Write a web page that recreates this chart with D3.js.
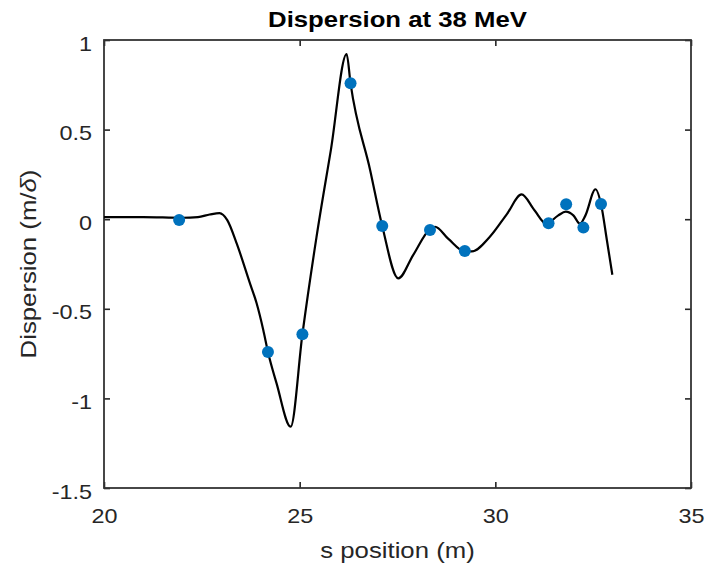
<!DOCTYPE html>
<html>
<head>
<meta charset="utf-8">
<script src="https://cdn.jsdelivr.net/npm/d3@7"></script>
<style>
  body { margin: 0; background: #fff; }
  text { font-family: "Liberation Sans", Arial, Helvetica, sans-serif; fill: #262626; }
</style>
</head>
<body>
<div id="chart"></div>
<script>
// dispersion function along the beamline (black curve)
var lineS = [20.0, 21.0, 22.0, 22.4, 22.7, 22.95, 23.15, 23.39, 23.73, 23.9, 24.07, 24.19, 24.41, 24.77,
    25.07, 25.43, 25.8, 26.2, 26.3, 26.8, 27.11, 27.52, 27.9, 28.33, 28.46, 28.8, 29.22, 29.4, 29.86,
    30.3, 30.67, 31.0, 31.3, 31.6, 31.8, 32.0, 32.16, 32.3, 32.56, 32.7, 32.85, 32.99]
var lineD = [0.012, 0.012, 0.008, 0.012, 0.026, 0.034, -0.005, -0.135, -0.358, -0.469, -0.618, -0.741, -0.916, -1.158,
    -0.642, -0.1, 0.39, 0.922, 0.758, 0.275, -0.038, -0.33, -0.2, -0.055, -0.042, -0.11, -0.18, -0.18, -0.098,
    0.03, 0.138, 0.05, -0.025, 0.02, 0.042, 0.02, -0.025, 0.02, 0.167, 0.085, -0.116, -0.31]

// measured values at the BPMs (blue markers)
var bpmS = [21.92, 24.19, 25.07, 26.30, 27.11, 28.33, 29.22, 31.36, 31.81, 32.25, 32.70]
var bpmD = [-0.005, -0.741, -0.642, 0.758, -0.038, -0.06, -0.177, -0.023, 0.083, -0.047, 0.085]

var xTicks = [20, 25, 30, 35]
var yTicks = [-1.5, -1, -0.5, 0, 0.5, 1]

var W = 706, H = 568
var margin = {top: 40, right: 15, bottom: 80, left: 104}
var stretch = 1.17   // text is drawn a bit wide

var svg = d3.select('#chart').append('svg')
    .attr('width', W)
    .attr('height', H)

var x = d3.scaleLinear().domain([20, 35]).range([margin.left, W - margin.right])
var y = d3.scaleLinear().domain([-1.5, 1]).range([H - margin.bottom, margin.top])

// inside ticks on all four sides
var tk = 6
svg.append('g')
    .attr('transform', 'translate(0,' + y(-1.5) + ')')
    .call(d3.axisBottom(x).tickValues(xTicks).tickSizeInner(-tk).tickSizeOuter(0).tickFormat(d => String(d)))
    .call(g => g.select('.domain').remove())
    .call(g => g.selectAll('text').attr('y', 35).attr('dy', null)
        .style('font-size', '20px').attr('transform', 'scale(' + stretch + ',1)'))
svg.append('g')
    .attr('transform', 'translate(0,' + y(1) + ')')
    .call(d3.axisTop(x).tickValues(xTicks).tickSizeInner(-tk).tickSizeOuter(0).tickFormat(''))
    .call(g => g.select('.domain').remove())
svg.append('g')
    .attr('transform', 'translate(' + x(20) + ',0)')
    .call(d3.axisLeft(y).tickValues(yTicks).tickSizeInner(-tk).tickSizeOuter(0).tickFormat(d => String(d)))
    .call(g => g.select('.domain').remove())
    .call(g => g.selectAll('text')
        .attr('x', -12 / stretch).attr('dy', '0.5em')
        .style('font-size', '20px').attr('transform', 'scale(' + stretch + ',1)'))
svg.append('g')
    .attr('transform', 'translate(' + x(35) + ',0)')
    .call(d3.axisRight(y).tickValues(yTicks).tickSizeInner(-tk).tickSizeOuter(0).tickFormat(''))
    .call(g => g.select('.domain').remove())

svg.selectAll('.tick line').attr('stroke', '#262626').attr('stroke-width', 1.6)

// axes box
svg.append('rect')
    .attr('x', x(20)).attr('y', y(1))
    .attr('width', x(35) - x(20)).attr('height', y(-1.5) - y(1))
    .attr('fill', 'none')
    .attr('stroke', '#333')
    .attr('stroke-width', 1.8)

var lineData = lineS.map((s, i) => [s, lineD[i]])
var line = d3.line()
    .x(d => x(d[0]))
    .y(d => y(d[1]))
    .curve(d3.curveMonotoneX)

svg.append('path')
    .datum(lineData)
    .attr('d', line)
    .attr('fill', 'none')
    .attr('stroke', '#000')
    .attr('stroke-width', 2.2)
    .attr('stroke-linejoin', 'round')

svg.append('g').selectAll('circle')
    .data(bpmS.map((s, i) => [s, bpmD[i]]))
    .join('circle')
    .attr('cx', d => x(d[0]))
    .attr('cy', d => y(d[1]))
    .attr('r', 6)
    .attr('fill', '#0072BD')

// title and axis labels
svg.append('text')
    .attr('transform', 'translate(' + (x(20) + x(35)) / 2 + ',27) scale(' + stretch + ',1)')
    .attr('text-anchor', 'middle')
    .style('font-size', '22px')
    .style('font-weight', 'bold')
    .style('fill', '#000')
    .text('Dispersion at 38 MeV')

svg.append('text')
    .attr('transform', 'translate(' + (x(20) + x(35)) / 2 + ',558) scale(' + stretch + ',1)')
    .attr('text-anchor', 'middle')
    .style('font-size', '22px')
    .text('s position (m)')

var yl = svg.append('text')
    .attr('transform', 'translate(36,' + (y(1) + y(-1.5)) / 2 + ') rotate(-90) scale(' + stretch + ',1)')
    .attr('text-anchor', 'middle')
    .style('font-size', '22px')
yl.append('tspan').text('Dispersion (m/')
yl.append('tspan').style('font-style', 'italic').text('δ')
yl.append('tspan').text(')')
</script>
</body>
</html>
